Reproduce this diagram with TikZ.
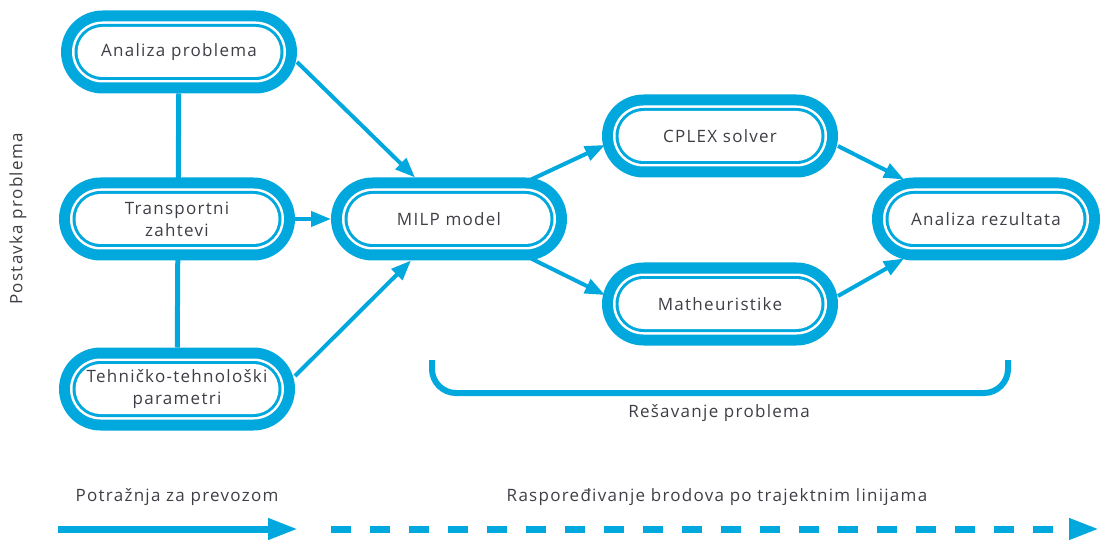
\documentclass[tikz,border=0pt]{standalone}
\usepackage{fontspec}
\setmainfont{Open Sans}[LetterSpace=7.5]
\usetikzlibrary{shapes.misc,arrows.meta,backgrounds,calc}
\definecolor{cblue}{RGB}{0,168,222}
\definecolor{ctext}{RGB}{62,62,70}
\tikzset{
  pillbase/.style={rounded rectangle, inner sep=0pt, outer sep=0pt},
  pillA/.style={pillbase, fill=cblue, minimum height=83pt},
  pillB/.style={pillbase, fill=white, minimum height=61pt},
  pillC/.style={pillbase, fill=cblue, minimum height=56pt},
  pillD/.style={pillbase, fill=white, minimum height=50pt, align=center,
    text=ctext, font=\fontsize{17}{22}\selectfont},
  conn/.style={draw=cblue, line width=4pt, -{Triangle[length=20pt,width=15pt]}},
  vline/.style={draw=cblue, line width=5pt},
  bracketline/.style={draw=cblue, line width=6pt, rounded corners=24pt},
  lbl/.style={text=ctext, font=\fontsize{17}{22}\selectfont, inner sep=0pt},
  bigarrow/.style={draw=cblue, line width=7pt, -{Triangle[length=30pt,width=20pt]}},
  dasharrow/.style={bigarrow, dash pattern=on 20pt off 19pt},
}
\newcommand\pillnode[4]{%
  \pgfmathsetmacro\pwA{#3}%
  \pgfmathsetmacro\pwB{#3-22}%
  \pgfmathsetmacro\pwC{#3-27}%
  \pgfmathsetmacro\pwD{#3-33}%
  \node[pillA, minimum width=\pwA pt] (#1) at #2 {};
  \node[pillB, minimum width=\pwB pt] (#1-b) at (#1) {};
  \node[pillC, minimum width=\pwC pt] (#1-c) at (#1) {};
  \node[pillD, minimum width=\pwD pt] (#1-t) at (#1) {#4};
}
\begin{document}
\begin{tikzpicture}[x=1pt,y=1pt]
\useasboundingbox (0,0) rectangle (1103,539);
% boxes
\pillnode{ap}{(179,487)}{236}{Analiza problema}
\pillnode{tz}{(177,320)}{236}{Transportni\\zahtevi}
\pillnode{tt}{(177,150)}{236}{Tehničko-tehnološki\\parametri}
\pillnode{milp}{(449,320)}{236}{MILP model}
\pillnode{cplex}{(720,403)}{236}{CPLEX solver}
\pillnode{math}{(720,235)}{236}{Matheuristike}
\pillnode{ar}{(986,320)}{228}{Analiza rezultata}
% vertical link behind boxes
\begin{pgfonlayer}{background}
  \draw[vline] (ap) -- (tt);
\end{pgfonlayer}
% connectors
\draw[conn] ([yshift=-10pt]ap.east) -- ([xshift=-34pt]milp.north);
\draw[conn] (tz.east) -- (milp.west);
\draw[conn] ([yshift=13pt]tt.east) -- ([xshift=-38pt]milp.south);
\draw[conn] ([xshift=80pt,yshift=-3pt]milp.north) -- ([xshift=3pt,yshift=-9pt]cplex.west);
\draw[conn] ([xshift=80pt,yshift=3pt]milp.south) -- ([xshift=3pt,yshift=9pt]cplex.west |- math.west);
\draw[conn] ([yshift=-10pt]cplex.east) -- ([xshift=-82pt,yshift=-2pt]ar.north);
\draw[conn] ([yshift=8pt]math.east) -- ([xshift=-82pt,yshift=2pt]ar.south);
% bracket
\coordinate (bl) at (432,179);
\coordinate (br) at (1008,179);
\draw[bracketline] (bl) -- (432,146) -- (1008,146) -- (br);
\node[lbl] (res) at (719,126) {Rešavanje problema};
% side label
\node[lbl, rotate=90] (post) at (18,320) {Postavka problema};
% bottom
\node[lbl] (potr) at (177,42) {Potražnja za prevozom};
\node[lbl] (rasp) at (717,42) {Raspoređivanje brodova po trajektnim linijama};
\coordinate (s1) at (58,10);
\coordinate (e1) at (298,10);
\coordinate (s2) at (331,10);
\coordinate (e2) at (1099,10);
\draw[bigarrow] (s1) -- (e1);
\draw[dasharrow] (s2) -- (e2);
\end{tikzpicture}
\end{document}
